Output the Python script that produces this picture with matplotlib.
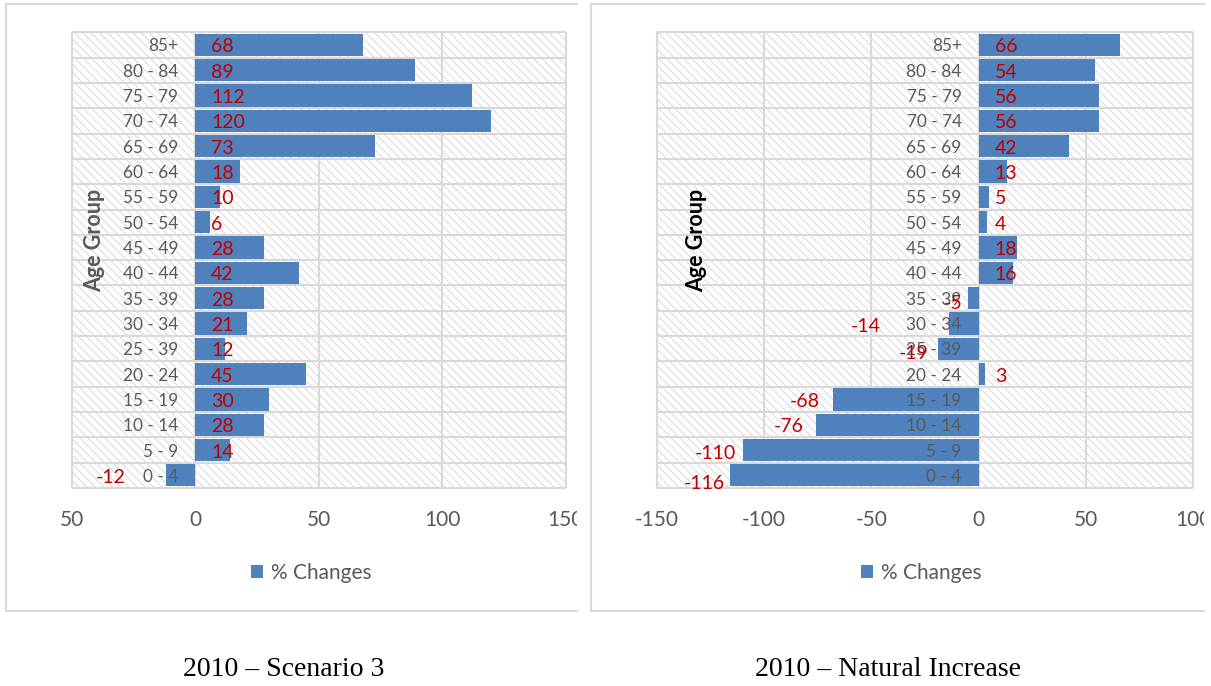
import matplotlib
matplotlib.use("Agg")
import matplotlib.pyplot as plt
from matplotlib.patches import Rectangle, Patch
from matplotlib.lines import Line2D
from matplotlib.transforms import Bbox, TransformedBbox
from matplotlib.ticker import FuncFormatter
import numpy as np

# ---- data -------------------------------------------------------------
age_groups = ["0 - 4", "5 - 9", "10 - 14", "15 - 19", "20 - 24", "25 - 39",
              "30 - 34", "35 - 39", "40 - 44", "45 - 49", "50 - 54", "55 - 59",
              "60 - 64", "65 - 69", "70 - 74", "75 - 79", "80 - 84", "85+"]
scenario3_changes = [-12, 14, 28, 30, 45, 12, 21, 28, 42, 28, 6, 10, 18, 73,
                     120, 112, 89, 68]
natural_changes = [-116, -110, -76, -68, 3, -19, -14, -5, 16, 18, 4, 5, 13, 42,
                   56, 56, 54, 66]
scenario3_xticks = [-50, 0, 50, 100, 150]
natural_xticks = [-150, -100, -50, 0, 50, 100]
legend_label = "% Changes"
axis_title = "Age Group"
captions = ["2010 \u2013 Scenario 3", "2010 \u2013 Natural Increase"]

# ---- style ------------------------------------------------------------
BAR = "#4F81BD"
LABEL_RED = "#C00000"
GREY_TEXT = "#595959"
GRID = "#D9D9D9"
HATCH = "#D2D2D2"

plt.rcParams["font.family"] = ["Lato", "DejaVu Sans"]
plt.rcParams["hatch.linewidth"] = 0.6

W, H = 1211, 686
fig = plt.figure(figsize=(W / 100, H / 100), dpi=100)


def fx(px):
    return px / W


def fy(py):
    return 1 - py / H


PX = 0.72  # points per pixel at 100 dpi

# label placement for negative bars: (gap left of bar end, shift down) in px
scenario3_neg_pos = {"0 - 4": (40, 0)}
natural_neg_pos = {"0 - 4": (5, 6), "5 - 9": (7, 1.5), "10 - 14": (12, 0),
                   "15 - 19": (13, 0), "25 - 39": (9, 3), "30 - 34": (68, 1),
                   "35 - 39": (5, 3)}


def draw_panel(left_px, right_px, values, xticks, tick_fmt, neg_pos,
               title_x, title_color, legend_x, caption_x, caption,
               frame_x0, frame_x1):
    top_px, bottom_px = 32.3, 488.0
    ax = fig.add_axes([fx(left_px), fy(bottom_px),
                       (right_px - left_px) / W, (bottom_px - top_px) / H])
    n = len(age_groups)
    y = np.arange(n)
    xlim = (xticks[0], xticks[-1])
    ax.set_xlim(*xlim)
    ax.set_ylim(-0.5, n - 0.5)

    # hatched plot area
    ax.add_patch(Rectangle((0, 0), 1, 1, transform=ax.transAxes,
                           facecolor="white", edgecolor=HATCH, lw=0,
                           hatch="\\\\\\\\", zorder=0.3))
    # gridlines / plot-area border
    ax.vlines(xticks, -0.5, n - 0.5, colors=GRID, lw=1.5, zorder=0.8,
              clip_on=False)
    ax.hlines(np.arange(n + 1) - 0.5, xlim[0], xlim[1], colors=GRID, lw=1.5,
              zorder=0.8, clip_on=False)

    ax.barh(y, values, height=0.88, color=BAR, zorder=1)

    for s in ax.spines.values():
        s.set_visible(False)
    ax.spines["left"].set_position(("data", 0))

    ax.set_yticks(y, age_groups)
    ax.tick_params(axis="y", length=0, pad=17 * PX, labelsize=12.4,
                   labelcolor=GREY_TEXT)
    ax.set_xticks(xticks)
    ax.xaxis.set_major_formatter(FuncFormatter(tick_fmt))
    ax.tick_params(axis="x", length=0, pad=16, labelsize=15,
                   labelcolor=GREY_TEXT)

    clip = TransformedBbox(Bbox([[fx(frame_x0), 0], [fx(frame_x1), 1]]),
                           fig.transFigure)
    for t in ax.xaxis.get_major_ticks():
        t.label1.set_clip_box(clip)
        t.label1.set_clip_on(True)

    for yi, v, cat in zip(y, values, age_groups):
        if v >= 0:
            ax.annotate(f"{v}", (0, yi), xytext=(16 * PX, -2 * PX),
                        textcoords="offset points", ha="left", va="center",
                        color=LABEL_RED, fontsize=14, zorder=5)
        else:
            dx, dy = neg_pos.get(cat, (8, 0))
            ax.annotate(f"{v}", (v, yi), xytext=(-dx * PX, -(dy + 2) * PX),
                        textcoords="offset points", ha="right", va="center",
                        color=LABEL_RED, fontsize=14, zorder=5)

    fig.text(fx(title_x), fy(240), axis_title, rotation=90, ha="center",
             va="center", fontsize=15.5, fontweight="bold", color=title_color)

    fig.legend(handles=[Patch(facecolor=BAR)], labels=[legend_label],
               loc="center", bbox_to_anchor=(fx(legend_x), fy(573)),
               frameon=False, fontsize=15, handlelength=0.6, handleheight=0.6,
               handletextpad=0.35, labelcolor=GREY_TEXT)

    fig.text(fx(caption_x), fy(669), caption, ha="center", va="center",
             fontsize=20, family="Liberation Serif", color="black")

    # chart frame (open on the right side where the chart is cropped)
    for xs, ys in [((frame_x0, frame_x1), (3.5, 3.5)),
                   ((frame_x0, frame_x0), (3.5, 611)),
                   ((frame_x0, frame_x1), (611, 611))]:
        fig.add_artist(Line2D([fx(v) for v in xs], [fy(v) for v in ys],
                              transform=fig.transFigure, color=GRID, lw=1.5))
    return ax


draw_panel(71.7, 565.5, scenario3_changes, scenario3_xticks,
           lambda v, p: f"{abs(v):.0f}", scenario3_neg_pos,
           95, GREY_TEXT, 311, 284, captions[0], 5.5, 577)
draw_panel(656.7, 1193.3, natural_changes, natural_xticks,
           lambda v, p: f"{v:.0f}", natural_neg_pos,
           697, "black", 921, 888, captions[1], 591, 1204)

fig.savefig("out.png", dpi=100, facecolor="white")
